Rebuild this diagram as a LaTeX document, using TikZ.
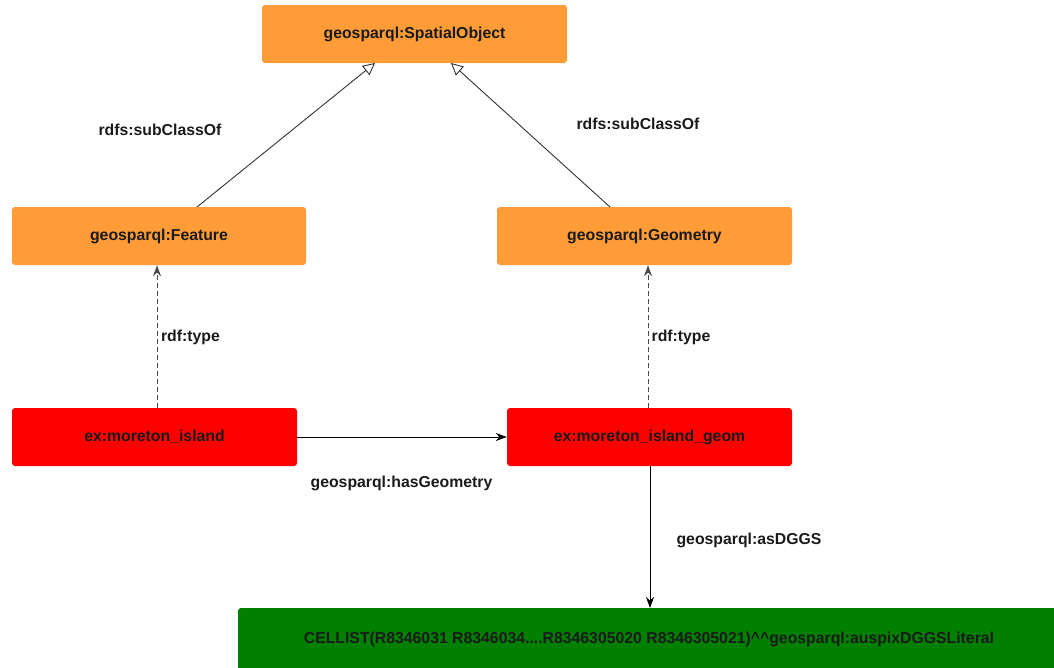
\documentclass[tikz,border=0pt]{standalone}
\usepackage{fontspec}
\setmainfont{Liberation Sans}
\usetikzlibrary{arrows.meta}
\definecolor{orangebox}{HTML}{FF9C38}
\definecolor{redbox}{HTML}{FF0000}
\definecolor{greenbox}{HTML}{007F00}
\definecolor{txt}{HTML}{1A1A1A}
\begin{document}
\begin{tikzpicture}[x=1pt,y=-1pt,
  box/.style={rounded corners=3pt, minimum height=58pt, inner sep=0pt, font=\bfseries\fontsize{15.8}{18}\selectfont, text=txt},
  lbl/.style={font=\bfseries\fontsize{15.8}{18}\selectfont, text=txt},
  sub/.style={draw=black!80, line width=0.9pt, -{Triangle[open, length=12pt, width=12pt]}},
  typ/.style={draw=black!70, line width=0.9pt, dash pattern=on 5pt off 3pt, -{Stealth[length=11pt, width=8pt]}},
  rel/.style={draw=black, line width=0.9pt, -{Stealth[length=11pt, width=8pt]}}]
\useasboundingbox (0,0) rectangle (1054,667);
\node[box, fill=orangebox, minimum width=305pt] (so) at (414.5,34) {geosparql:SpatialObject};
\node[box, fill=orangebox, minimum width=294pt] (feat) at (159,236) {geosparql:Feature};
\node[box, fill=orangebox, minimum width=295pt] (geom) at (644.5,236) {geosparql:Geometry};
\node[box, fill=redbox, minimum width=285pt] (mi) at (154.5,437) {ex:moreton\_island};
\node[box, fill=redbox, minimum width=285pt] (mig) at (649.5,437) {ex:moreton\_island\_geom};
\fill[greenbox, rounded corners=3pt] (238,608) rectangle (1070,680);
\node[lbl] (lit) at (649,639) {CELLIST(R8346031 R8346034....R8346305020 R8346305021)\textasciicircum\textasciicircum geosparql:auspixDGGSLiteral};
\coordinate (litTop) at (650,608);
\coordinate (f1) at (197,207);
\coordinate (s1) at (375,63);
\coordinate (g1) at (610,207);
\coordinate (s2) at (451,63);
\draw[sub] (f1) -- (s1);
\draw[sub] (g1) -- (s2);
\draw[typ] (157,408) coordinate (mt) -- (mt |- feat.south);
\draw[typ] (648,408) coordinate (mgt) -- (mgt |- geom.south);
\draw[rel] (mi.east) -- (mig.west);
\draw[rel] (mig.south -| litTop) -- (litTop);
\node[lbl] (l1) at (160,130) {rdfs:subClassOf};
\node[lbl] (l2) at (638,124) {rdfs:subClassOf};
\node[lbl] (l3) at (190.5,337) {rdf:type};
\node[lbl] (l4) at (681,337) {rdf:type};
\node[lbl] (l5) at (401.5,483) {geosparql:hasGeometry};
\node[lbl] (l6) at (749,540) {geosparql:asDGGS};
\end{tikzpicture}
\end{document}
